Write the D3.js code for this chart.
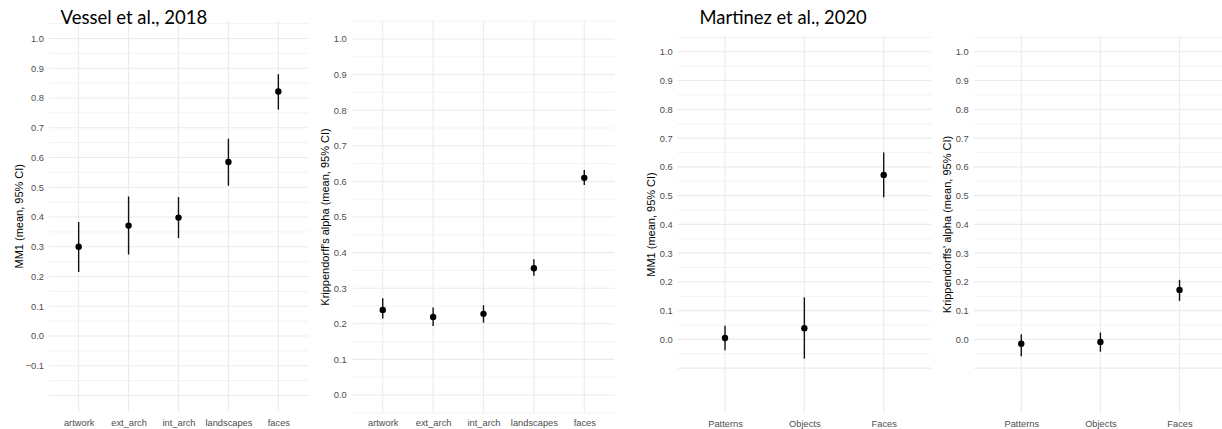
<!DOCTYPE html>
<html>
<head>
<meta charset="utf-8">
<script src="https://cdn.jsdelivr.net/npm/d3@7"></script>
<style>
  body { margin: 0; background: #fff; }
  svg { display: block; }
  .tick text { font-family: "Liberation Sans", Arial, sans-serif; fill: #4d4d4d; }
</style>
</head>
<body>
<script>
// values
var vesselCategories = ["artwork", "ext_arch", "int_arch", "landscapes", "faces"];
var vesselMM1Mean = [0.300, 0.371, 0.398, 0.585, 0.822];
var vesselMM1Low  = [0.215, 0.274, 0.329, 0.505, 0.761];
var vesselMM1High = [0.383, 0.469, 0.467, 0.663, 0.880];

var vesselAlphaMean = [0.239, 0.219, 0.228, 0.356, 0.610];
var vesselAlphaLow  = [0.215, 0.194, 0.203, 0.335, 0.590];
var vesselAlphaHigh = [0.272, 0.246, 0.252, 0.381, 0.632];

var martinezCategories = ["Patterns", "Objects", "Faces"];
var martinezMM1Mean = [0.005, 0.039, 0.572];
var martinezMM1Low  = [-0.038, -0.067, 0.494];
var martinezMM1High = [0.047, 0.146, 0.650];

var martinezAlphaMean = [-0.015, -0.009, 0.172];
var martinezAlphaLow  = [-0.059, -0.043, 0.134];
var martinezAlphaHigh = [0.018, 0.024, 0.207];

var ticksFromMinus01 = [-0.1, 0.0, 0.1, 0.2, 0.3, 0.4, 0.5, 0.6, 0.7, 0.8, 0.9, 1.0];
var ticksFromZero = [0.0, 0.1, 0.2, 0.3, 0.4, 0.5, 0.6, 0.7, 0.8, 0.9, 1.0];

var mm1Label = "MM1 (mean, 95% CI)";
var alphaLabelVessel = "Krippendorff's alpha (mean, 95% CI)";
var alphaLabelMartinez = "Krippendorffs' alpha (mean, 95% CI)";

var width = 1222, height = 429;

var svg = d3.select("body")
            .append("svg")
            .attr("width", width)
            .attr("height", height);

function zip(cats, mean, lo, hi) {
    return cats.map(function(c, i) {
        return {cat: c, mean: mean[i], lo: lo[i], hi: hi[i]};
    });
}

var panels = [
    {cats: vesselCategories, rows: zip(vesselCategories, vesselMM1Mean, vesselMM1Low, vesselMM1High),
     ticks: ticksFromMinus01, gridLo: -0.2, x0: 48.7, x1: 308.3, top: 20.5, bottom: 412,
     domain: [-0.2555, 1.0605], pad: 4.7, label: mm1Label, labelX: 22.5, catY: 426},
    {cats: vesselCategories, rows: zip(vesselCategories, vesselAlphaMean, vesselAlphaLow, vesselAlphaHigh),
     ticks: ticksFromZero, gridLo: -0.05, x0: 352.5, x1: 614.5, top: 21.2, bottom: 412.8,
     domain: [-0.05, 1.05], pad: 5.8, label: alphaLabelVessel, labelX: 328.5, catY: 426},
    {cats: martinezCategories, rows: zip(martinezCategories, martinezMM1Mean, martinezMM1Low, martinezMM1High),
     ticks: ticksFromZero, gridLo: -0.1, x0: 677.4, x1: 931.3, top: 36, bottom: 413,
     domain: [-0.256, 1.055], pad: 4.7, label: mm1Label, labelX: 655, catY: 427},
    {cats: martinezCategories, rows: zip(martinezCategories, martinezAlphaMean, martinezAlphaLow, martinezAlphaHigh),
     ticks: ticksFromZero, gridLo: -0.1, x0: 973.8, x1: 1227, top: 36, bottom: 413,
     domain: [-0.256, 1.055], pad: 5.2, label: alphaLabelMartinez, labelX: 950.5, catY: 427}
];

panels.forEach(function(p) {

    var x = d3.scalePoint()
              .domain(p.cats)
              .range([p.x0, p.x1])
              .padding(0.6);

    var y = d3.scaleLinear()
              .domain(p.domain)
              .range([p.bottom, p.top]);

    var g = svg.append("g");

    // horizontal grid: majors on the 0.1 steps, minors in between
    var grid = d3.range(Math.round(p.gridLo * 20), 22).map(function(k) { return k / 20; });

    g.append("g")
        .selectAll("line")
        .data(grid)
      .enter().append("line")
        .attr("x1", p.x0)
        .attr("x2", Math.min(p.x1, width))
        .attr("y1", function(d) { return y(d); })
        .attr("y2", function(d) { return y(d); })
        .style("stroke", "#ebebeb")
        .style("stroke-width", function(d) { return Math.abs(d * 10 - Math.round(d * 10)) < 1e-6 ? 1.1 : 0.6; });

    // vertical grid on the categories
    g.append("g")
        .selectAll("line")
        .data(p.cats)
      .enter().append("line")
        .attr("x1", function(d) { return x(d); })
        .attr("x2", function(d) { return x(d); })
        .attr("y1", p.top)
        .attr("y2", p.bottom)
        .style("stroke", "#ebebeb")
        .style("stroke-width", 1.1);

    // y axis
    var yAxis = g.append("g")
        .attr("transform", "translate(" + p.x0 + ",0)")
        .call(d3.axisLeft(y).tickValues(p.ticks).tickSize(0).tickPadding(p.pad)
                .tickFormat(d3.format(".1f")));
    yAxis.select(".domain").remove();
    yAxis.selectAll("text").style("font-size", "9.3px");

    // x axis labels
    var xAxis = g.append("g")
        .attr("transform", "translate(0," + p.bottom + ")")
        .call(d3.axisBottom(x).tickSize(0).tickPadding(0));
    xAxis.select(".domain").remove();
    xAxis.selectAll("text")
        .attr("dy", null)
        .attr("y", p.catY - p.bottom)
        .style("font-size", "9.3px");

    // y title
    g.append("text")
        .attr("transform", "translate(" + p.labelX + "," + ((p.top + p.bottom) / 2) + ") rotate(-90)")
        .attr("text-anchor", "middle")
        .style("font-family", "Liberation Sans, Arial, sans-serif")
        .style("font-size", "11px")
        .style("fill", "#000")
        .text(p.label);

    // error bars
    g.append("g")
        .selectAll("line")
        .data(p.rows)
      .enter().append("line")
        .attr("x1", function(d) { return x(d.cat); })
        .attr("x2", function(d) { return x(d.cat); })
        .attr("y1", function(d) { return y(d.lo); })
        .attr("y2", function(d) { return y(d.hi); })
        .style("stroke", "#111")
        .style("stroke-width", 1.4);

    // means
    g.append("g")
        .selectAll("circle")
        .data(p.rows)
      .enter().append("circle")
        .attr("cx", function(d) { return x(d.cat); })
        .attr("cy", function(d) { return y(d.mean); })
        .attr("r", 3.2)
        .style("fill", "#000");
});

// study titles
svg.append("text")
    .attr("x", 60.5)
    .attr("y", 24)
    .style("font-family", "Lato, 'Open Sans', sans-serif")
    .style("font-size", "18.5px")
    .style("fill", "#000")
    .text("Vessel et al., 2018");

svg.append("text")
    .attr("x", 699.5)
    .attr("y", 24)
    .style("font-family", "Lato, 'Open Sans', sans-serif")
    .style("font-size", "18.4px")
    .style("fill", "#000")
    .text("Martinez et al., 2020");
</script>
</body>
</html>
